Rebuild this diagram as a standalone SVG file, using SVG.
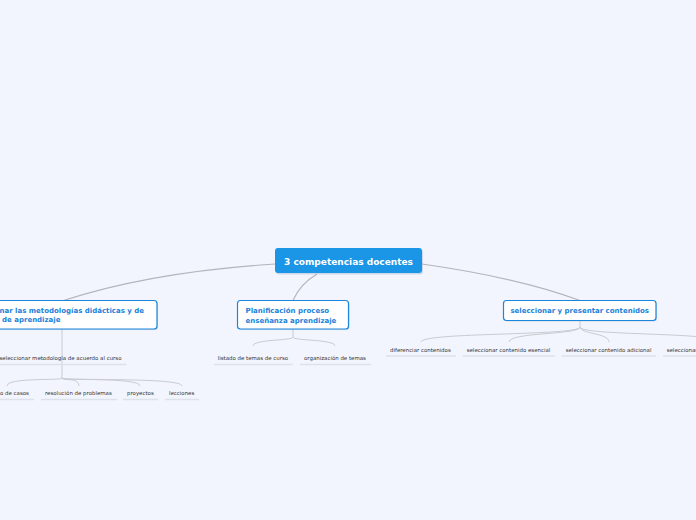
<svg xmlns="http://www.w3.org/2000/svg" width="696" height="520" viewBox="0 0 696 520">
<defs>
<style>
.main{fill:none;stroke:#b3b5bb;stroke-width:1.2}
.sub{fill:none;stroke:#c9cbd1;stroke-width:1}
.ul{stroke:#dde1ea;stroke-width:1.5}
.box{fill:#ffffff;stroke:#1b86dc;stroke-width:1.2}
.shadow{fill:#8aa0c0;opacity:0.35}
.bt{font-family:"DejaVu Sans",Verdana,sans-serif;font-weight:bold;font-size:7px;fill:#1a7fd8}
.st{font-family:"DejaVu Sans",Verdana,sans-serif;font-size:5.45px;fill:#333333}
</style>
</defs>
<rect x="0" y="0" width="696" height="520" fill="#f2f5fd"/>
<g id="connectors">
<path class="main" d="M275,264 Q150,272 62,301"/>
<path class="main" d="M317,274 Q300,284 293,300.5"/>
<path class="main" d="M422,264 Q520,278 580,300.5"/>
<path class="sub" d="M62,329 L62,378"/>
<path class="sub" d="M62,378 C62,381 7,377 7,386"/>
<path class="sub" d="M62,378 C62,381 79,377 79,386"/>
<path class="sub" d="M62,378 C62,381 140,377 140,386"/>
<path class="sub" d="M62,378 C62,381 182,377 182,386"/>
<path class="sub" d="M293,329 L293,337"/>
<path class="sub" d="M293,337 C293,341 253,339 253,346"/>
<path class="sub" d="M293,337 C293,341 335,339 335,346"/>
<path class="sub" d="M580,320.5 L580,327"/>
<path class="sub" d="M580,327 C580,336 421,332 421,342"/>
<path class="sub" d="M580,327 C580,335 509,332 509,342"/>
<path class="sub" d="M580,327 C580,334 609,333 609,342"/>
<path class="sub" d="M580,327 C580,336 720,332 720,342"/>
</g>
<g id="root">
<rect class="shadow" x="276" y="249.5" width="147" height="25" rx="3"/>
<rect x="275" y="248" width="147" height="25" rx="3" fill="#1b96e6"/>
<text x="348.5" y="264.5" text-anchor="middle" font-family="DejaVu Sans, Verdana, sans-serif" font-weight="bold" font-size="9px" fill="#ffffff">3 competencias docentes</text>
</g>
<g id="node-metodologias">
<rect class="shadow" x="-4" y="301.5" width="162" height="28.5" rx="3"/>
<rect class="box" x="-5" y="300.5" width="162" height="28.5" rx="3"/>
<text class="bt" x="-0.5" y="312.5">nar las metodologías didácticas y de</text>
<text class="bt" x="2" y="322">de aprendizaje</text>
</g>
<g id="node-planificacion">
<rect class="shadow" x="238.5" y="301.5" width="111" height="28.5" rx="3"/>
<rect class="box" x="237.5" y="300.5" width="111" height="28.5" rx="3"/>
<text class="bt" x="245.5" y="313">Planificación proceso</text>
<text class="bt" x="245.5" y="322.5">enseñanza aprendizaje</text>
</g>
<g id="node-contenidos">
<rect class="shadow" x="504.5" y="301.5" width="152.5" height="20" rx="3"/>
<rect class="box" x="503.5" y="300.5" width="152.5" height="20" rx="3"/>
<text class="bt" x="579.7" y="313" text-anchor="middle">seleccionar y presentar contenidos</text>
</g>
<g id="node-seleccionar-metodologia">
<text class="st" x="-0.5" y="359.5">seleccionar metodología de acuerdo al curso</text>
<line class="ul" x1="0" y1="364.5" x2="126.5" y2="364.5"/>
</g>
<g id="node-estudio-casos">
<text class="st" x="0" y="394.5">o de casos</text>
<line class="ul" x1="0" y1="399.5" x2="34" y2="399.5"/>
</g>
<g id="node-resolucion">
<text class="st" x="45" y="394.5">resolución de problemas</text>
<line class="ul" x1="41" y1="399.5" x2="117" y2="399.5"/>
</g>
<g id="node-proyectos">
<text class="st" x="127" y="394.5">proyectos</text>
<line class="ul" x1="123" y1="399.5" x2="158" y2="399.5"/>
</g>
<g id="node-lecciones">
<text class="st" x="169" y="394.5">lecciones</text>
<line class="ul" x1="165" y1="399.5" x2="199" y2="399.5"/>
</g>
<g id="node-listado">
<text class="st" x="217.7" y="359.5">listado de temas de curso</text>
<line class="ul" x1="214" y1="364.5" x2="293" y2="364.5"/>
</g>
<g id="node-organizacion">
<text class="st" x="304" y="359.5">organización de temas</text>
<line class="ul" x1="300" y1="364.5" x2="371" y2="364.5"/>
</g>
<g id="node-diferenciar">
<text class="st" x="390" y="351.5">diferenciar contenidos</text>
<line class="ul" x1="386" y1="356" x2="456" y2="356"/>
</g>
<g id="node-esencial">
<text class="st" x="466.7" y="351.5">seleccionar contenido esencial</text>
<line class="ul" x1="462.7" y1="356" x2="555" y2="356"/>
</g>
<g id="node-adicional">
<text class="st" x="565.7" y="351.5">seleccionar contenido adicional</text>
<line class="ul" x1="561.7" y1="356" x2="655.7" y2="356"/>
</g>
<g id="node-seleccionar-4">
<text class="st" x="666.7" y="351.5">seleccionar</text>
<line class="ul" x1="663" y1="356" x2="696" y2="356"/>
</g>
</svg>
